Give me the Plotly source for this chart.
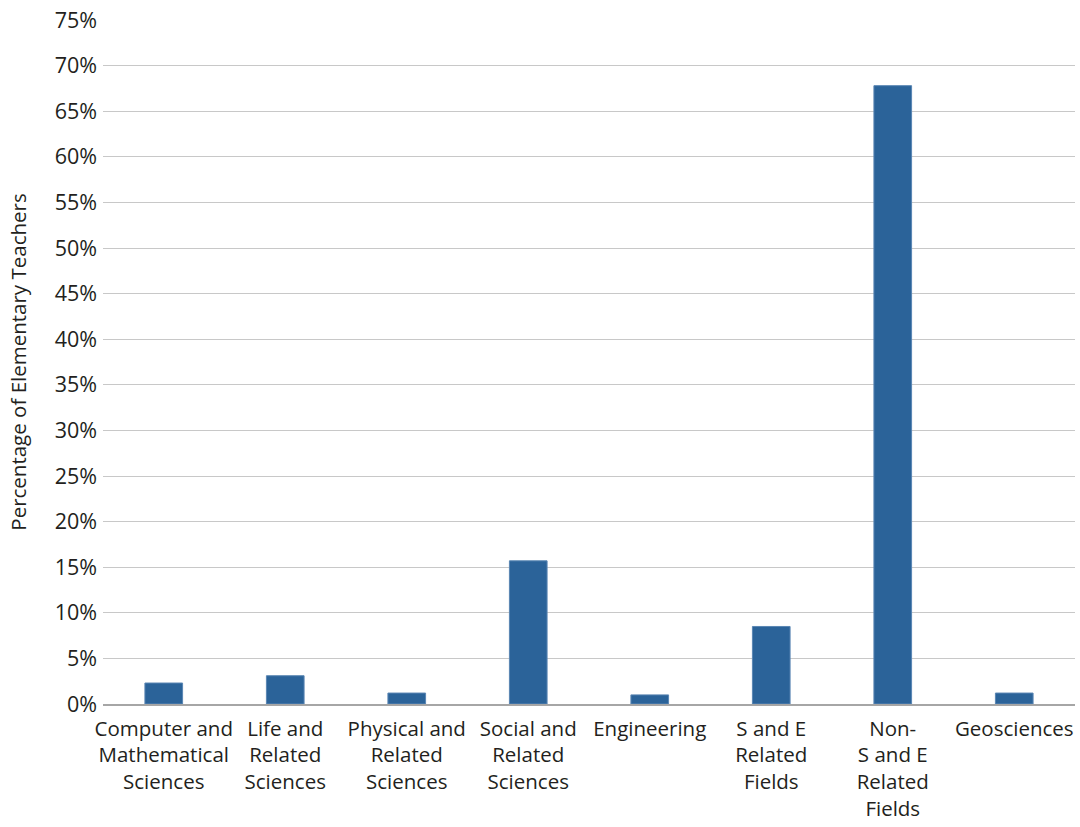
import plotly.graph_objects as go

# Field of bachelor's degree held by elementary teachers
categories = [
    "Computer and Mathematical Sciences",
    "Life and Related Sciences",
    "Physical and Related Sciences",
    "Social and Related Sciences",
    "Engineering",
    "S and E Related Fields",
    "Non-S and E Related Fields",
    "Geosciences",
]
tick_labels = [
    "Computer and<br>Mathematical<br>Sciences",
    "Life and<br>Related<br>Sciences",
    "Physical and<br>Related<br>Sciences",
    "Social and<br>Related<br>Sciences",
    "Engineering",
    "S and E<br>Related<br>Fields",
    "Non-<br>S and E<br>Related<br>Fields",
    "Geosciences",
]
percentages = [2.3, 3.1, 1.2, 15.7, 1.0, 8.5, 67.8, 1.2]
y_ticks = list(range(0, 80, 5))

font_family = "Open Sans, Noto Sans, sans-serif"
text_color = "#231f20"

fig = go.Figure(
    go.Bar(
        x=categories,
        y=percentages,
        marker=dict(color="#2b6399", line=dict(color="#5a86b3", width=1)),
        hoverinfo="x+y",
    )
)

fig.update_layout(
    width=1080,
    height=827,
    margin=dict(l=103, r=5, t=20, b=123),
    paper_bgcolor="white",
    plot_bgcolor="white",
    bargap=0.69,
    showlegend=False,
    font=dict(family=font_family, size=21, color=text_color),
)

fig.update_xaxes(
    tickmode="array",
    tickvals=categories,
    ticktext=tick_labels,
    tickangle=0,
    showgrid=False,
    showline=True,
    linecolor="#a6a6a6",
    linewidth=2,
    ticks="",
    ticklabelstandoff=5,
    automargin=False,
    tickfont=dict(size=20.5, color=text_color),
)

fig.update_yaxes(
    range=[0, 75],
    tickmode="array",
    tickvals=y_ticks,
    ticktext=[f"{v}%" for v in y_ticks],
    showgrid=True,
    gridcolor="#c8c8c8",
    gridwidth=1,
    zeroline=False,
    showline=False,
    ticks="",
    ticklabelstandoff=5,
    automargin=False,
    tickfont=dict(size=21.5, color=text_color),
    title=dict(text="Percentage of Elementary Teachers", font=dict(size=20.5, color=text_color), standoff=22),
)

fig.write_html("out.html")
